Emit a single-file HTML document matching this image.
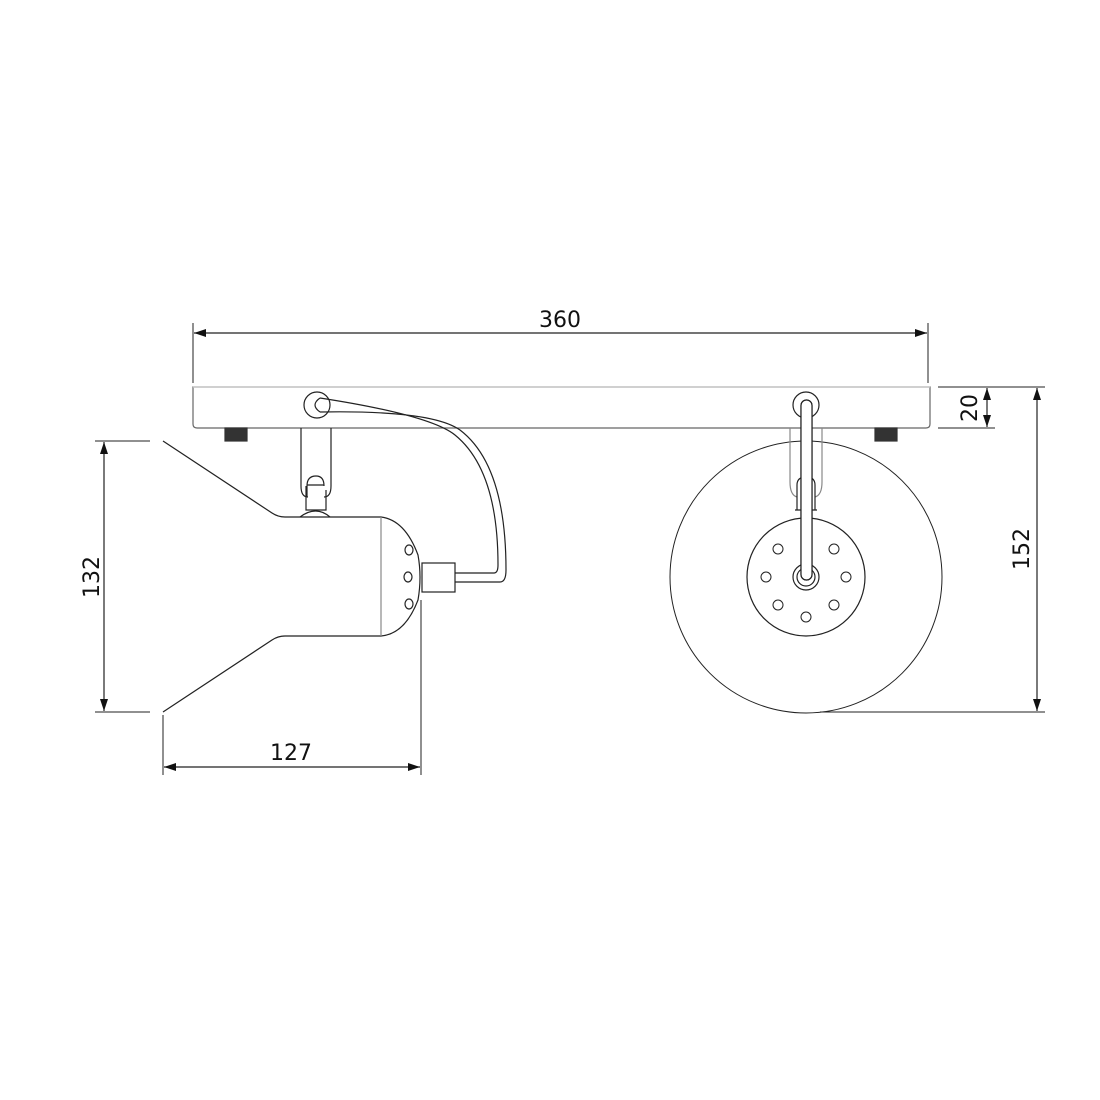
<!DOCTYPE html>
<html><head><style>
html,body{margin:0;padding:0;background:#fff;}
svg{display:block}
text{font-family:"DejaVu Sans","Liberation Sans",sans-serif;font-size:22px;fill:#111}
</style></head><body>
<svg width="1100" height="1100" viewBox="0 0 1100 1100" xmlns="http://www.w3.org/2000/svg">
<defs>
<marker id="a" viewBox="0 0 12 8" refX="12" refY="4" markerWidth="12" markerHeight="8" orient="auto-start-reverse" markerUnits="userSpaceOnUse"><path d="M0,0 L12,4 L0,8 z" fill="#111"/></marker>
</defs>
<g fill="none" stroke="#222" stroke-width="1.2">
<!-- dimension 360 -->
<line x1="193" y1="323" x2="193" y2="383" stroke-width="1"/>
<line x1="928" y1="323" x2="928" y2="383" stroke-width="1"/>
<line x1="194" y1="333" x2="927" y2="333" marker-start="url(#a)" marker-end="url(#a)"/>
<!-- 20 -->
<line x1="938" y1="387" x2="995" y2="387" stroke-width="1"/>
<line x1="938" y1="428" x2="995" y2="428" stroke-width="1"/>
<line x1="987" y1="388" x2="987" y2="427" marker-start="url(#a)" marker-end="url(#a)"/>
<!-- 152 -->
<line x1="940" y1="387" x2="1045" y2="387" stroke-width="1"/>
<line x1="820" y1="712" x2="1045" y2="712" stroke-width="1"/>
<line x1="1037" y1="388" x2="1037" y2="711" marker-start="url(#a)" marker-end="url(#a)"/>
<!-- 132 -->
<line x1="95" y1="441" x2="150" y2="441" stroke-width="1"/>
<line x1="95" y1="712" x2="150" y2="712" stroke-width="1"/>
<line x1="104" y1="442" x2="104" y2="711" marker-start="url(#a)" marker-end="url(#a)"/>
<!-- 127 -->
<line x1="163" y1="715" x2="163" y2="775" stroke-width="1"/>
<line x1="421" y1="600" x2="421" y2="775" stroke-width="1"/>
<line x1="164" y1="767" x2="420" y2="767" marker-start="url(#a)" marker-end="url(#a)"/>

<!-- base plate -->
<path d="M193,387 H930 V424 Q930,428 926,428 H197 Q193,428 193,424 Z" stroke="#666"/>
<line x1="193" y1="387" x2="930" y2="387" stroke="#ccc"/>
<!-- screws -->
<rect x="225" y="428" width="22" height="13" fill="#333" stroke="#333"/>
<rect x="875" y="428" width="22" height="13" fill="#333" stroke="#333"/>

<!-- left lamp -->
<circle cx="317" cy="405" r="13"/>
<path d="M301,428 V486 Q301,497 308,497 M331,428 V486 Q331,497 324,497"/>
<path d="M307,497 V486 Q307,476 316,476 Q324,476 324,486 M307,485 H324 M306,486 V510 H326 V490"/>
<path d="M163,441 L272,513 Q278,517 285,517 H381 Q405,520 418,555 Q422,577 418,600 Q405,634 381,636 H285 Q278,636 272,640 L163,712"/>
<path d="M300,517 Q316,505 330,517"/>
<line x1="381" y1="517" x2="381" y2="636" stroke="#888"/>
<rect x="422" y="563" width="33" height="29"/>
<ellipse cx="409" cy="550" rx="4" ry="5"/>
<ellipse cx="408" cy="577" rx="4" ry="5"/>
<ellipse cx="409" cy="604" rx="4" ry="5"/>
<!-- cable -->
<path d="M455,573 H494 Q498,573 498,565 Q498,470 455,435 Q430,415 320,398" />
<path d="M455,582 H500 Q506,582 506,570 Q506,465 460,430 Q432,410 320,412"/>
<path d="M320,398 Q310,405 320,412"/>

<!-- right lamp -->
<circle cx="806" cy="577" r="136" stroke-width="1"/>
<circle cx="806" cy="577" r="59"/>
<path d="M790,428 V482 Q790,495 797,497 M822,428 V482 Q822,495 815,497" stroke="#888"/>
<path d="M797,510 V485 Q797,477 806,477 Q815,477 815,485 V510 M795,510 H817"/>
<circle cx="806" cy="577" r="13"/>
<circle cx="806" cy="577" r="9"/>
<rect x="801" y="400" width="11" height="180" rx="5.5" fill="#fff"/>
<circle cx="806" cy="405" r="13" fill="none"/>
<rect x="801" y="400" width="11" height="180" rx="5.5" fill="#fff"/>
<g stroke-width="1">
<circle cx="778" cy="549" r="5"/><circle cx="834" cy="549" r="5"/>
<circle cx="766" cy="577" r="5"/><circle cx="846" cy="577" r="5"/>
<circle cx="778" cy="605" r="5"/><circle cx="834" cy="605" r="5"/>
<circle cx="806" cy="617" r="5"/>
</g>
</g>
<text x="560" y="327" text-anchor="middle">360</text>
<text x="291" y="760" text-anchor="middle">127</text>
<text transform="translate(977,408) rotate(-90)" text-anchor="middle">20</text>
<text transform="translate(1029,549) rotate(-90)" text-anchor="middle">152</text>
<text transform="translate(99,577) rotate(-90)" text-anchor="middle">132</text>
</svg>
</body></html>
